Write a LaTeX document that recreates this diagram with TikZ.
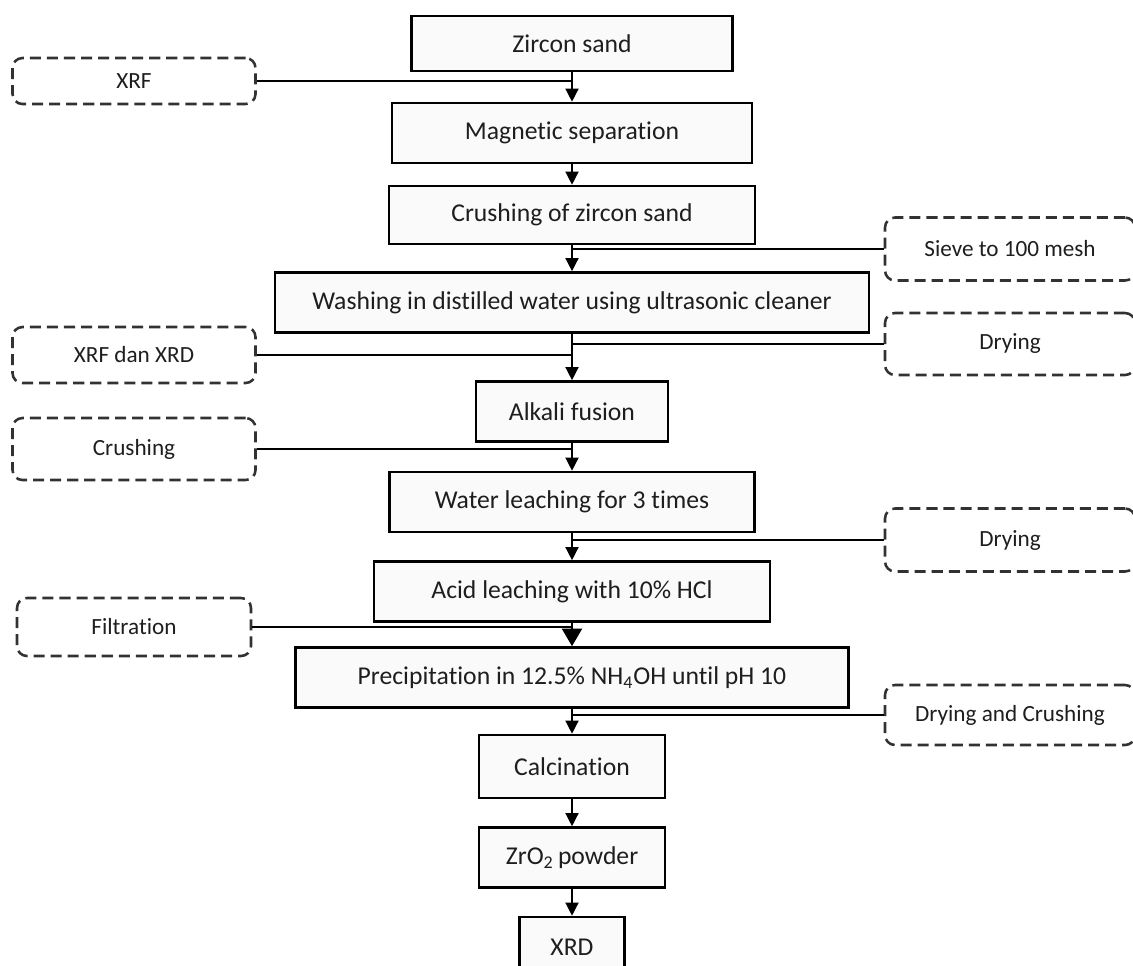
\documentclass[tikz,border=0pt]{standalone}
\usepackage{fontspec}
\setmainfont{Carlito}[Ligatures=NoCommon]
\usetikzlibrary{arrows.meta,positioning,calc}
\definecolor{BoxFill}{RGB}{250,250,250}
\definecolor{InkGray}{RGB}{30,30,30}
\definecolor{DashGray}{RGB}{50,50,50}
\tikzset{
  stage/.style={draw=black,line width=1.5pt,fill=BoxFill,minimum height=1.2cm,inner sep=0pt,text=InkGray,font=\fontsize{14.6}{17}\selectfont},
  aside/.style={draw=DashGray,line width=1.45pt,dash pattern=on 6.3pt off 3.4pt,rounded corners=0.2cm,minimum width=4.86cm,minimum height=1.18cm,inner sep=0pt,text=InkGray,font=\fontsize{13.2}{16}\selectfont},
  flow/.style={-{Triangle[length=7.5pt,width=7.5pt]},line width=0.8pt},
  bigflow/.style={-{Triangle[length=10pt,width=11.5pt]},line width=0.8pt},
  feed/.style={line width=0.8pt}
}

\begin{document}
\begin{tikzpicture}
\useasboundingbox (0,0) rectangle (22.66,-19.30);

\node[stage,minimum width=6.42cm,minimum height=1.1cm] (zircon) at (11.44,-0.87) {Zircon sand};
\node[stage,minimum width=7.20cm] (magsep) at (11.44,-2.66) {Magnetic separation};
\node[stage,minimum width=7.32cm,minimum height=1.16cm] (crushzr) at (11.44,-4.30) {Crushing of zircon sand};
\node[stage,minimum width=11.88cm] (washing) at (11.44,-6.05) {Washing in distilled water using ultrasonic cleaner};
\node[stage,minimum width=3.84cm] (alkali) at (11.44,-8.23) {Alkali fusion};
\node[stage,minimum width=7.30cm] (waterleach) at (11.44,-10.04) {Water leaching for 3 times};
\node[stage,minimum width=7.92cm] (acidleach) at (11.44,-11.83) {Acid leaching with 10\% HCl};
\node[stage,minimum width=11.06cm] (precip) at (11.44,-13.55) {Precipitation in 12.5\% NH\textsubscript{4}OH until pH 10};
\node[stage,minimum width=3.72cm,minimum height=1.26cm] (calcin) at (11.44,-15.33) {Calcination};
\node[stage,minimum width=3.72cm] (zro) at (11.44,-17.15) {ZrO\textsubscript{2}\,powder};
\node[stage,minimum width=2.10cm] (xrd) at (11.44,-18.94) {XRD};

% side steps, left
\node[aside,minimum height=0.92cm] (xrf) at (2.68,-1.62) {XRF};
\node[aside,minimum height=1.12cm] (xrfxrd) at (2.68,-7.10) {XRF dan XRD};
\node[aside,minimum height=1.24cm] (crushing) at (2.68,-8.98) {Crushing};
\node[aside,minimum width=4.68cm,minimum height=1.16cm] (filtration) at (2.68,-12.54) {Filtration};

% side steps, right
\node[aside,minimum width=5cm,minimum height=1.26cm] (sieve) at (20.20,-4.98) {Sieve to 100 mesh};
\node[aside,minimum width=5cm,minimum height=1.24cm] (dryingA) at (20.20,-6.88) {Drying};
\node[aside,minimum width=5cm,minimum height=1.26cm] (dryingB) at (20.20,-10.80) {Drying};
\node[aside,minimum width=5cm,minimum height=1.20cm] (drycrush) at (20.20,-14.30) {Drying and Crushing};

\draw[flow](zircon)--(magsep);\draw[flow](magsep)--(crushzr);\draw[flow](crushzr)--(washing);\draw[flow](washing)--(alkali);\draw[flow](alkali)--(waterleach);\draw[flow](waterleach)--(acidleach);
\draw[bigflow](acidleach)--(precip);
\draw[flow](precip)--(calcin);\draw[flow](calcin)--(zro);\draw[flow](zro)--(xrd);

\draw[feed](xrf.east)--(xrf.east -| zircon.south);
\draw[feed](xrfxrd.east)--(xrfxrd.east -| washing.south);
\draw[feed](crushing.east)--(crushing.east -| alkali.south);
\draw[feed](filtration.east)--(filtration.east -| acidleach.south);
\draw[feed](sieve.west)--(sieve.west -| crushzr.south);
\draw[feed](dryingA.west)--(dryingA.west -| washing.south);
\draw[feed](dryingB.west)--(dryingB.west -| waterleach.south);
\draw[feed](drycrush.west)--(drycrush.west -| precip.south);
\end{tikzpicture}
\end{document}
